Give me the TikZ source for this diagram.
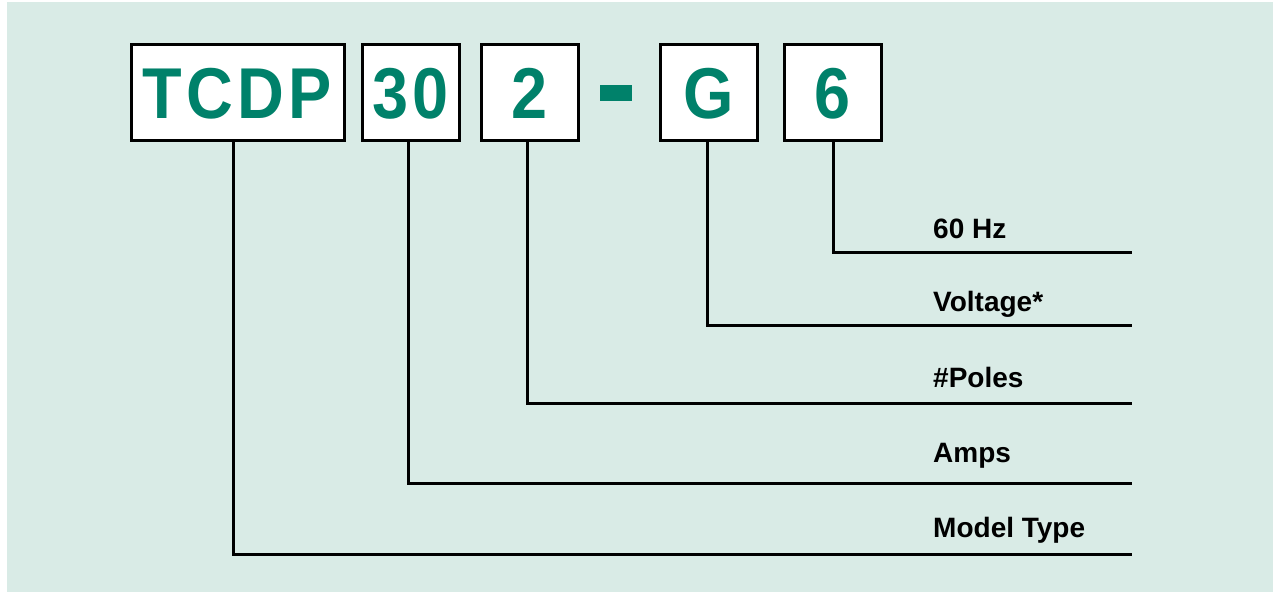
\documentclass[tikz,border=0pt]{standalone}
\usepackage{fontspec}
\setmainfont{Liberation Sans}
\newfontfamily\codefont[FakeStretch=0.9,LetterSpace=6]{Liberation Sans}
\definecolor{bgmint}{RGB}{217,235,230}
\definecolor{codegreen}{RGB}{0,129,106}
\begin{document}
\begin{tikzpicture}[x=1pt,y=-1pt,
  codebox/.style={draw=black,line width=3pt,fill=white,inner sep=0pt,
    minimum height=96pt,text height=52pt,text depth=0pt,
    font=\codefont\bfseries\fontsize{72}{72}\selectfont,text=codegreen},
  lbl/.style={anchor=base west,inner sep=0pt,font=\bfseries\fontsize{28}{28}\selectfont},
  conn/.style={line width=3pt,line join=miter}]
\useasboundingbox (0,0) rectangle (1273,592);
\fill[bgmint] (7,2) rectangle (1273,592);
% code boxes
\node[codebox,minimum width=213pt] (tcdp) at (237.5,92) {TCDP};
\node[codebox,minimum width=97pt] (amps) at (410.5,92) {30};
\node[codebox,minimum width=97pt] (poles) at (529.5,92.5) {2};
\node[fill=codegreen,minimum width=32pt,minimum height=16pt,inner sep=0pt] (dash) at (616,93) {};
\node[codebox,minimum width=97pt] (volt) at (708.5,92.5) {G};
\node[codebox,minimum width=97pt] (hz) at (832.5,92.5) {6};
% labels
\node[lbl] (lhz) at (933,238) {60 Hz};
\node[lbl] (lvolt) at (933,311) {Voltage*};
\node[lbl] (lpoles) at (933,387) {\#Poles};
\node[lbl] (lamps) at (933,462) {Amps};
\node[lbl] (lmodel) at (933,537) {Model Type};
% line ends
\coordinate (ehz) at (1132,252);
\coordinate (evolt) at (1132,325);
\coordinate (epoles) at (1132,403);
\coordinate (eamps) at (1132,483);
\coordinate (emodel) at (1132,554);
% connectors
\draw[conn] ([xshift=0.5pt]hz.south) |- (ehz);
\draw[conn] ([xshift=-1.5pt]volt.south) |- (evolt);
\draw[conn] ([xshift=-2.5pt]poles.south) |- (epoles);
\draw[conn] ([xshift=-2.5pt]amps.south) |- (eamps);
\draw[conn] ([xshift=-4.5pt]tcdp.south) |- (emodel);
\end{tikzpicture}
\end{document}
